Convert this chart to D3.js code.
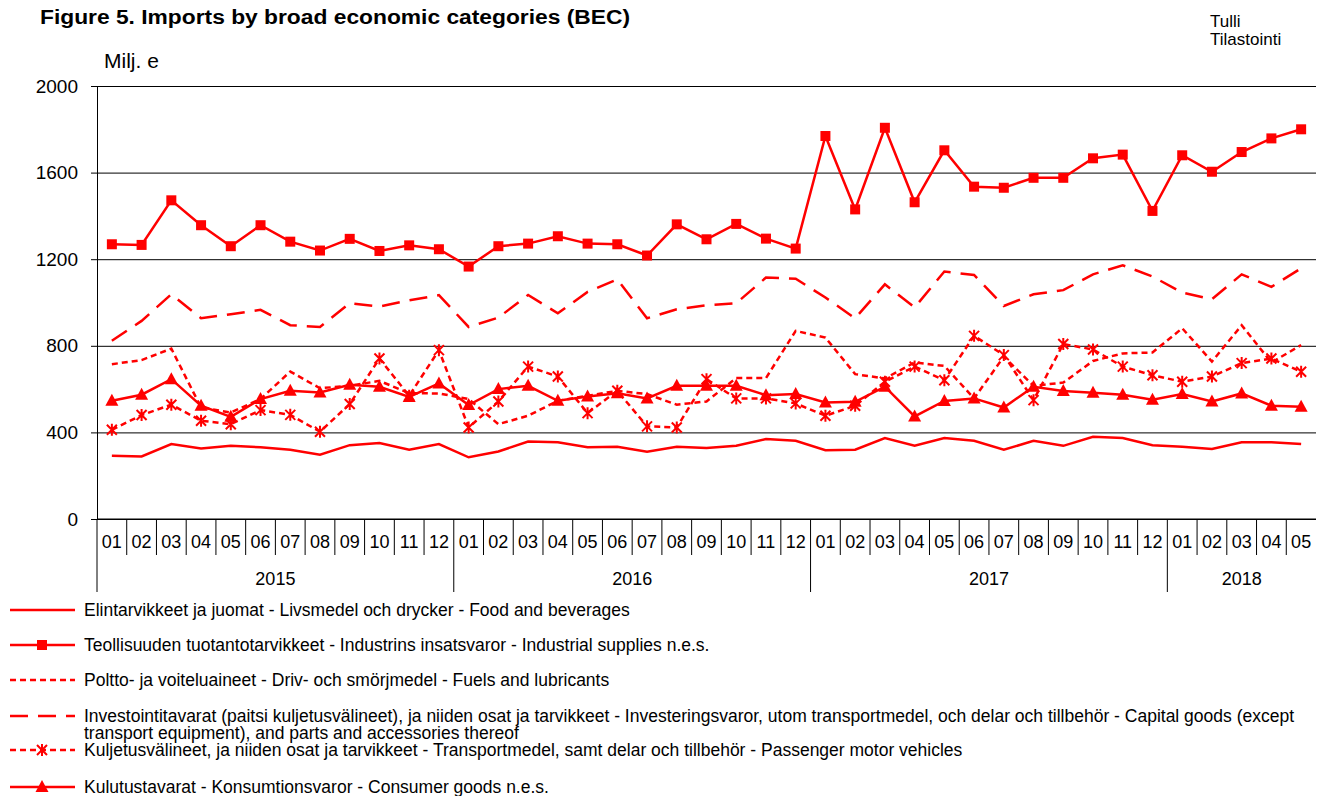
<!DOCTYPE html>
<html>
<head>
<meta charset="utf-8">
<script src="https://cdn.jsdelivr.net/npm/d3@7"></script>
<style>
  body { margin: 0; background: #fff; }
  text { font-family: Arial, "Liberation Sans", sans-serif; }
</style>
</head>
<body>
<script>
// months 2015-01 .. 2018-05
var years = ["2015", "2016", "2017", "2018"];
var monthLabels = ["01","02","03","04","05","06","07","08","09","10","11","12"];
var categories = [];
years.forEach(function(yr) {
  monthLabels.forEach(function(m) {
    if (yr === "2018" && +m > 5) return;
    categories.push(yr + "-" + m);
  });
});

var yTicks = [0, 400, 800, 1200, 1600, 2000];

// values, Milj. e
var food = [292,289,346,326,338,331,320,297,341,351,320,346,
            285,312,358,354,331,334,311,334,328,338,369,361,
            318,320,374,338,374,361,320,361,338,380,374,341,
            334,323,354,354,346];
var industrial = [1269,1266,1472,1357,1260,1357,1281,1240,1294,1238,1264,1246,
                  1166,1260,1272,1306,1272,1269,1217,1361,1292,1363,1295,1249,
                  1769,1430,1807,1463,1703,1535,1530,1576,1576,1666,1683,1423,
                  1680,1604,1695,1758,1800];
var fuels = [715,734,787,515,492,554,681,604,615,638,581,580,
             554,438,477,546,569,592,577,528,543,651,651,869,
             838,669,649,723,707,557,750,615,630,730,765,769,
             881,727,895,723,803];
var capital = [823,915,1038,927,946,966,895,887,997,981,1010,1034,
               887,930,1035,950,1049,1107,927,969,987,997,1115,1110,
               1023,927,1084,977,1143,1127,984,1038,1057,1130,1172,1120,
               1046,1015,1130,1072,1158];
var transport = [412,480,528,454,438,503,481,403,531,741,569,780,
                 423,543,704,658,489,592,428,423,646,557,557,534,
                 477,523,634,704,641,846,757,549,808,783,704,664,
                 634,658,720,741,680];
var consumer = [546,574,646,523,472,554,592,584,620,611,564,626,
                526,600,615,546,566,581,557,615,615,615,572,577,
                538,541,611,474,545,557,515,611,591,583,574,551,
                577,543,580,523,518];

var seriesNames = [
  ["Elintarvikkeet ja juomat - Livsmedel och drycker - Food and beverages"],
  ["Teollisuuden tuotantotarvikkeet - Industrins insatsvaror - Industrial supplies n.e.s."],
  ["Poltto- ja voiteluaineet - Driv- och smörjmedel - Fuels and lubricants"],
  ["Investointitavarat (paitsi kuljetusvälineet), ja niiden osat ja tarvikkeet - Investeringsvaror, utom transportmedel, och delar och tillbehör - Capital goods (except",
   "transport equipment), and parts and accessories thereof"],
  ["Kuljetusvälineet, ja niiden osat ja tarvikkeet - Transportmedel, samt delar och tillbehör - Passenger motor vehicles"],
  ["Kulutustavarat - Konsumtionsvaror - Consumer goods n.e.s."]
];

var series = [
  {values: food, dash: null, marker: null},
  {values: industrial, dash: null, marker: "square"},
  {values: fuels, dash: "6,4", marker: null},
  {values: capital, dash: "18,10", marker: null},
  {values: transport, dash: "6,4", marker: "asterisk"},
  {values: consumer, dash: null, marker: "triangle"}
];

var W = 1319, H = 796;
var plotLeft = 97, plotRight = 1316, plotTop = 86, plotBottom = 519;
var red = "#ff0000";
var font = "Arial, 'Liberation Sans', sans-serif";

var svg = d3.select("body").append("svg")
    .attr("width", W)
    .attr("height", H);

var x = d3.scaleBand().domain(categories).range([plotLeft, plotRight]).padding(0);
var y = d3.scaleLinear().domain([0, 2000]).range([plotBottom, plotTop]);

// gridlines
svg.append("g")
    .attr("transform", "translate(" + plotLeft + ",0)")
    .call(d3.axisLeft(y).tickValues(yTicks).tickSize(-(plotRight - plotLeft)).tickFormat(""))
    .call(function(g) {
      g.select(".domain").remove();
      g.selectAll("line").attr("stroke", "#000").attr("stroke-width", 1);
    });

// y axis
svg.append("g")
    .attr("transform", "translate(" + plotLeft + ",0)")
    .call(d3.axisLeft(y).tickValues(yTicks).tickSize(6).tickPadding(13).tickSizeOuter(0)
      .tickFormat(d3.format("d")))
    .call(function(g) {
      g.select(".domain").attr("stroke", "#000");
      g.selectAll("text")
        .attr("font-size", 19)
        .attr("fill", "#000")
        .attr("font-family", font);
    });

// left axis line continues down through category rows
svg.append("line")
    .attr("x1", plotLeft).attr("x2", plotLeft)
    .attr("y1", plotBottom).attr("y2", 592)
    .attr("stroke", "#000");

// bottom axis with month labels
svg.append("g")
    .attr("transform", "translate(0," + plotBottom + ")")
    .call(d3.axisBottom(x).tickSize(0).tickPadding(16)
      .tickFormat(function(d) { return d.slice(5); }))
    .call(function(g) {
      g.select(".domain").attr("stroke", "#000").attr("d", "M" + plotLeft + ",0H" + plotRight);
      g.selectAll("text")
        .attr("font-size", 18)
        .attr("fill", "#000")
        .attr("font-family", font);
    });

// month separators
svg.append("g").selectAll("line")
    .data(categories.slice(1))
    .enter().append("line")
    .attr("x1", function(d) { return x(d); })
    .attr("x2", function(d) { return x(d); })
    .attr("y1", plotBottom)
    .attr("y2", function(d) { return d.slice(5) === "01" ? 592 : 555; })
    .attr("stroke", "#000");

// year labels
years.forEach(function(yr) {
  var cats = categories.filter(function(c) { return c.slice(0, 4) === yr; });
  var x0 = x(cats[0]), x1 = x(cats[cats.length - 1]) + x.bandwidth();
  svg.append("text")
      .attr("x", (x0 + x1) / 2)
      .attr("y", 585)
      .attr("text-anchor", "middle")
      .attr("font-size", 18)
      .text(yr);
});

// lines
var line = d3.line()
    .x(function(d, i) { return x(categories[i]) + x.bandwidth() / 2; })
    .y(function(d) { return y(d); });

function drawMarker(g, type, cx, cy) {
  if (type === "square") {
    g.append("rect").attr("x", cx - 5).attr("y", cy - 5)
      .attr("width", 10).attr("height", 10).attr("fill", red);
  } else if (type === "triangle") {
    g.append("path")
      .attr("d", "M" + cx + "," + (cy - 7) + "L" + (cx + 6.5) + "," + (cy + 5) + "L" + (cx - 6.5) + "," + (cy + 5) + "Z")
      .attr("fill", red);
  } else if (type === "asterisk") {
    var r = 5;
    g.append("path")
      .attr("d", "M" + (cx - r) + "," + (cy - r) + "L" + (cx + r) + "," + (cy + r) +
                 "M" + (cx - r) + "," + (cy + r) + "L" + (cx + r) + "," + (cy - r) +
                 "M" + cx + "," + (cy - r - 1) + "L" + cx + "," + (cy + r + 1))
      .attr("stroke", red).attr("stroke-width", 2).attr("fill", "none");
  }
}

series.forEach(function(s) {
  svg.append("path")
      .datum(s.values)
      .attr("fill", "none")
      .attr("stroke", red)
      .attr("stroke-width", 2.5)
      .attr("stroke-dasharray", s.dash)
      .attr("d", line);
  if (s.marker) {
    var g = svg.append("g");
    s.values.forEach(function(v, i) {
      drawMarker(g, s.marker, x(categories[i]) + x.bandwidth() / 2, y(v));
    });
  }
});

// title and labels
svg.append("text")
    .attr("x", 40).attr("y", 24)
    .attr("font-size", 20)
    .attr("font-weight", "bold")
    .attr("textLength", 590)
    .attr("lengthAdjust", "spacingAndGlyphs")
    .text("Figure 5. Imports by broad economic categories (BEC)");

svg.append("text")
    .attr("x", 104).attr("y", 68)
    .attr("font-size", 21)
    .text("Milj. e");

svg.append("text")
    .attr("x", 1210).attr("y", 27)
    .attr("font-size", 17)
    .text("Tulli");
svg.append("text")
    .attr("x", 1210).attr("y", 45)
    .attr("font-size", 17)
    .text("Tilastointi");

// legend
var legendY = [610, 645, 680, 716, 750, 787];
series.forEach(function(s, i) {
  var ly = legendY[i];
  var g = svg.append("g");
  g.append("line")
      .attr("x1", 10).attr("x2", 75)
      .attr("y1", ly).attr("y2", ly)
      .attr("stroke", red)
      .attr("stroke-width", 2.5)
      .attr("stroke-dasharray", s.dash);
  if (s.marker) drawMarker(g, s.marker, 42, ly);
  seriesNames[i].forEach(function(t, j) {
    g.append("text")
        .attr("x", 84)
        .attr("y", ly + 6 + j * 17)
        .attr("font-size", 17.5)
        .text(t);
  });
});
</script>
</body>
</html>
